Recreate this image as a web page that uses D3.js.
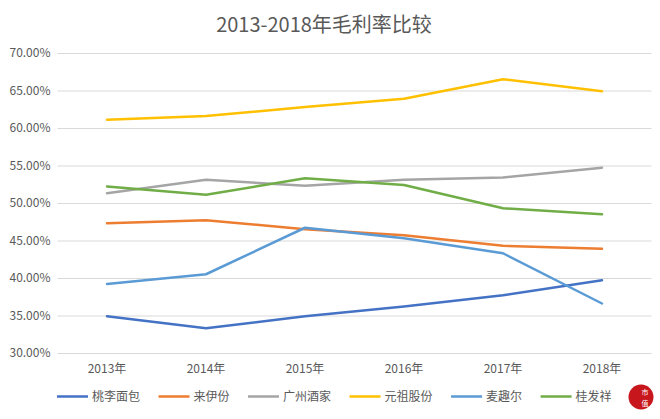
<!DOCTYPE html>
<html><head><meta charset="utf-8">
<script src="https://cdn.jsdelivr.net/npm/d3@7/dist/d3.min.js"></script>
<style>
body{margin:0;background:#fff;}
text{font-family:"Noto Sans CJK SC","Noto Sans",sans-serif;}
</style></head>
<body><svg id="c" width="660" height="419"></svg>
<script>
const years = ["2013年","2014年","2015年","2016年","2017年","2018年"];
const yTicks = [0.30,0.35,0.40,0.45,0.50,0.55,0.60,0.65,0.70];
const seriesNames = ["桃李面包","来伊份","广州酒家","元祖股份","麦趣尔","桂发祥"];
const taoli   = [0.349,0.333,0.349,0.362,0.377,0.397];
const laiyi   = [0.473,0.477,0.465,0.457,0.443,0.439];
const guangzhou = [0.513,0.531,0.523,0.531,0.534,0.547];
const yuanzu  = [0.611,0.616,0.628,0.639,0.665,0.649];
const maiquer = [0.392,0.405,0.467,0.453,0.433,0.366];
const guifa   = [0.522,0.511,0.533,0.524,0.493,0.485];
const seriesValues = [taoli,laiyi,guangzhou,yuanzu,maiquer,guifa];
const colors = ["#4472C4","#ED7D31","#A5A5A5","#FFC000","#5B9BD5","#70AD47"];

const svg = d3.select("#c");
const x = d3.scaleBand().domain(years).range([57.5,651.5]);
const y = d3.scaleLinear().domain([0.30,0.70]).range([353,53]);

svg.append("text").attr("x",324).attr("y",32).attr("text-anchor","middle")
  .attr("font-size",20).attr("fill","#595959").text("2013-2018年毛利率比较");

const yAxis = d3.axisLeft(y).tickValues(yTicks).tickFormat(d3.format(".2%")).tickSize(-(651.5-57.5)).tickPadding(7);
const gy = svg.append("g").attr("transform","translate(57.5,0)").call(yAxis);
gy.select(".domain").remove();
gy.selectAll("line").attr("stroke","#d9d9d9").attr("stroke-width",1);
gy.selectAll("text").attr("fill","#595959").attr("font-size",12);

const xAxis = d3.axisBottom(x).tickSize(0).tickPadding(11);
const gx = svg.append("g").attr("transform","translate(0,353)").call(xAxis);
gx.select(".domain").remove();
gx.selectAll("text").attr("fill","#595959").attr("font-size",12);

const line = d3.line().x((d,i)=>x(years[i])+x.bandwidth()/2).y(d=>y(d));
seriesValues.forEach((vals,k)=>{
  svg.append("path").datum(vals).attr("d",line).attr("fill","none")
    .attr("stroke",colors[k]).attr("stroke-width",2.5).attr("stroke-linejoin","round").attr("stroke-linecap","round");
});

const lg = svg.append("g");
let lx = 57;
const ly = 396.5;
seriesNames.forEach((n,k)=>{
  lg.append("line").attr("x1",lx).attr("x2",lx+31).attr("y1",ly).attr("y2",ly)
    .attr("stroke",colors[k]).attr("stroke-width",2.5);
  const t = lg.append("text").attr("x",lx+35).attr("y",ly+4.5).attr("font-size",12)
    .attr("fill","#595959").text(n);
  lx += 35 + t.node().getComputedTextLength() + 18.5;
});

// corner logo
const logo = svg.append("g").attr("transform","translate(641,397)");
logo.append("circle").attr("r",12.5).attr("fill","#c8161d");
logo.append("text").attr("x",4).attr("y",-2).attr("text-anchor","middle").attr("font-size",7).attr("fill","#fff").text("市");
logo.append("text").attr("x",4).attr("y",8.5).attr("text-anchor","middle").attr("font-size",7).attr("fill","#fff").text("值");
</script></body></html>
